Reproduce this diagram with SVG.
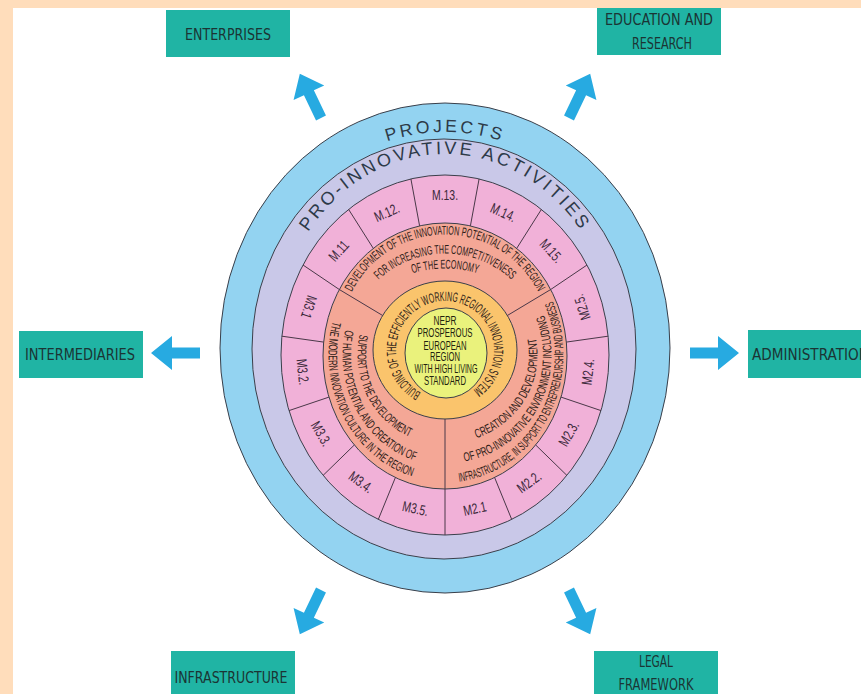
<svg xmlns="http://www.w3.org/2000/svg" width="861" height="694" viewBox="0 0 861 694">
<style>
.box{fill:#20B4A4}
.bt{font-family:"DejaVu Sans","Liberation Sans",sans-serif;font-size:16px;fill:#1b3434;text-anchor:middle}
.ring{stroke:#3a3f4a;stroke-width:1}
.div{stroke:#4a3848;stroke-width:1;fill:none}
.ml{font-family:"Liberation Sans",Arial,sans-serif;font-size:14.5px;fill:#3a2838;text-anchor:middle}
.ct{font-family:"Liberation Sans",Arial,sans-serif;font-size:12.5px;fill:#2e1c18}
.yt{font-family:"Liberation Sans",Arial,sans-serif;font-size:12.5px;fill:#22220e;text-anchor:middle}
.rt{font-family:"Liberation Sans",Arial,sans-serif;fill:#2d3a48}
.arr{fill:#27AAE1}
</style>
<defs>
<path id="arrow" d="M0,-5.5 H28 V-17 L49,0 L28,17 V5.5 H0 Z"/>
<path id="pProj" d="M258.94,274.12 A198,216 0 0 1 631.06,274.12"/>
<path id="pPro" d="M276.6,315.1 A171,195 0 0 1 613.4,315.1"/>
<path id="pOr" d="M439,398.6 A49,49 0 1 1 456,397.7"/>
<path id="pT1" d="M342.1,320.9 A104.5,104.5 0 0 1 547.9,320.9"/>
<path id="pT2" d="M360.6,302.25 A97.5,97.5 0 0 1 529.4,302.25"/>
<path id="pT3" d="M389.25,283.44 A111.5,111.5 0 0 1 500.75,283.44"/>
<path id="pR1" d="M428.94,442.16 A92.5,88.5 0 0 0 513.74,295.78"/>
<path id="pR2" d="M401.9,453.8 A106,108 0 0 0 504.3,265.5"/>
<path id="pR3" d="M389.7,468.3 A119,128 0 0 0 507.5,246.1"/>
<path id="pL1" d="M381.53,293.39 A87.5,89.5 0 0 0 454.9,443.93"/>
<path id="pL2" d="M371.64,277.83 A102.5,110.5 0 0 0 472.74,461.38"/>
<path id="pL3" d="M369.96,258.24 A116.5,126.5 0 0 0 485.04,473.8"/>
</defs>

<rect width="861" height="694" fill="#FFDDBB"/>
<rect x="13" y="8" width="848" height="686" fill="#FFFFFF"/>

<g id="center-diagram">
  <g id="ring-projects">
    <ellipse class="ring" cx="445" cy="348" rx="225" ry="245" fill="#93D3F1"/>
    <text class="rt" font-size="17.5" letter-spacing="3.1"><textPath href="#pProj" startOffset="50%" text-anchor="middle">PROJECTS</textPath></text>
  </g>
  <g id="ring-activities">
    <ellipse class="ring" cx="444" cy="349" rx="192" ry="210" fill="#C9C8E8"/>
    <text class="rt" font-size="18" letter-spacing="3"><textPath href="#pPro" startOffset="50%" text-anchor="middle">PRO-INNOVATIVE ACTIVITIES</textPath></text>
  </g>
  <g id="ring-measures">
    <ellipse class="ring" cx="445" cy="355" rx="164" ry="180" fill="#F1B1D8"/>
  </g>
  <g id="ring-priorities">
    <ellipse class="ring" cx="445" cy="356" rx="122" ry="133" fill="#F4A796"/>
  </g>
  <g id="ring-system">
    <ellipse class="ring" cx="445" cy="350" rx="72" ry="69" fill="#FAC46C"/>
  </g>
  <g id="core">
    <ellipse class="ring" cx="446" cy="353" rx="41" ry="45" fill="#EAF27C"/>
  </g>

  <g id="dividers" class="div">
    <path d="M445,419 V535"/>
    <path d="M382.65,315.5 L339.3,289.5 L303,265"/>
    <path d="M507.35,315.5 L550.7,289.5 L587,265"/>
    <path d="M395.4,477.5 L378.3,519.4 M354.3,445 L323.1,475.4 M329,397.1 L289,410.6 M323.7,342.1 L281.9,336.2 M373.3,248.4 L348.6,209.4 M419.6,225.9 L410.9,178.9 M470.4,225.9 L479.1,178.9 M516.7,248.4 L541.4,209.4 M566.3,342.1 L608.1,336.2 M561,397.1 L601,410.6 M535.7,445 L566.9,475.4 M494.6,477.5 L511.7,519.4"/>
  </g>

  <g id="measure-labels" class="ml">
    <text transform="translate(338.7,250.8) rotate(-48) scale(0.72,1)" y="5">M.11</text>
    <text transform="translate(386.8,212.5) rotate(-24) scale(0.72,1)" y="5">M.12.</text>
    <text transform="translate(445,195) scale(0.72,1)" y="5">M.13.</text>
    <text transform="translate(503.2,212.5) rotate(24) scale(0.72,1)" y="5">M.14.</text>
    <text transform="translate(551.3,250.8) rotate(48) scale(0.72,1)" y="5">M.15.</text>
    <text transform="translate(582,307.1) rotate(-108) scale(0.72,1)" y="5">M2.5.</text>
    <text transform="translate(588,371.9) rotate(-84) scale(0.72,1)" y="5">M2.4.</text>
    <text transform="translate(568.8,433.8) rotate(-60) scale(0.72,1)" y="5">M2.3.</text>
    <text transform="translate(529.1,482.1) rotate(-36) scale(0.72,1)" y="5">M2.2.</text>
    <text transform="translate(474.7,508.6) rotate(-12) scale(0.72,1)" y="5">M2.1</text>
    <text transform="translate(415.3,508.6) rotate(12) scale(0.72,1)" y="5">M3.5.</text>
    <text transform="translate(360.9,482.1) rotate(36) scale(0.72,1)" y="5">M3.4.</text>
    <text transform="translate(321.2,433.8) rotate(60) scale(0.72,1)" y="5">M3.3.</text>
    <text transform="translate(302.8,371.9) rotate(84) scale(0.72,1)" y="5">M3.2.</text>
    <text transform="translate(309,307.1) rotate(108) scale(0.72,1)" y="5">M3.1</text>
  </g>

  <g id="priority-texts" class="ct">
    <text textLength="230" lengthAdjust="spacingAndGlyphs"><textPath href="#pT1" startOffset="50%" text-anchor="middle">DEVELOPMENT OF THE INNOVATION POTENTIAL OF THE REGION</textPath></text>
    <text textLength="146" lengthAdjust="spacingAndGlyphs"><textPath href="#pT2" startOffset="50%" text-anchor="middle">FOR INCREASING THE COMPETITIVENESS</textPath></text>
    <text textLength="66" lengthAdjust="spacingAndGlyphs"><textPath href="#pT3" startOffset="50%" text-anchor="middle">OF THE ECONOMY</textPath></text>
    <text textLength="127" lengthAdjust="spacingAndGlyphs"><textPath href="#pR1" startOffset="50%" text-anchor="middle">CREATION AND DEVELOPMENT</textPath></text>
    <text textLength="190" lengthAdjust="spacingAndGlyphs"><textPath href="#pR2" startOffset="50%" text-anchor="middle">OF PRO-INNOVATIVE ENVIRONMENT INCLUDING</textPath></text>
    <text textLength="234" lengthAdjust="spacingAndGlyphs"><textPath href="#pR3" startOffset="50%" text-anchor="middle">INFRASTRUCTURE, IN SUPPORT TO ENTREPRENEURSHIP AND BUSINESS</textPath></text>
    <text textLength="123" lengthAdjust="spacingAndGlyphs"><textPath href="#pL1" startOffset="50%" text-anchor="middle">SUPPORT TO THE DEVELOPMENT</textPath></text>
    <text textLength="162" lengthAdjust="spacingAndGlyphs"><textPath href="#pL2" startOffset="50%" text-anchor="middle">OF HUMAN POTENTIAL AND CREATION OF</textPath></text>
    <text textLength="191" lengthAdjust="spacingAndGlyphs"><textPath href="#pL3" startOffset="50%" text-anchor="middle">THE MODERN INNOVATION CULTURE IN THE REGION</textPath></text>
    <text font-size="13.5" textLength="252" lengthAdjust="spacingAndGlyphs"><textPath href="#pOr" startOffset="50%" text-anchor="middle">BUILDING OF THE EFFICIENTLY WORKING REGIONAL INNOVATION SYSTEM</textPath></text>
  </g>

  <g id="core-text" class="yt">
    <text x="445" y="324.5" textLength="23" lengthAdjust="spacingAndGlyphs">NEPR</text>
    <text x="445" y="337" textLength="55" lengthAdjust="spacingAndGlyphs">PROSPEROUS</text>
    <text x="445" y="349.5" textLength="43" lengthAdjust="spacingAndGlyphs">EUROPEAN</text>
    <text x="445" y="361" textLength="30" lengthAdjust="spacingAndGlyphs">REGION</text>
    <text x="446" y="373" textLength="63" lengthAdjust="spacingAndGlyphs">WITH HIGH LIVING</text>
    <text x="445" y="384.5" textLength="42" lengthAdjust="spacingAndGlyphs">STANDARD</text>
  </g>
</g>

<g id="enterprises">
  <rect class="box" x="166" y="10" width="124" height="47"/>
  <text class="bt" x="228" y="40" textLength="86" lengthAdjust="spacingAndGlyphs">ENTERPRISES</text>
</g>
<g id="education-research">
  <rect class="box" x="597" y="8" width="124" height="47"/>
  <text class="bt" x="659" y="25" textLength="108" lengthAdjust="spacingAndGlyphs">EDUCATION AND</text>
  <text class="bt" x="662" y="49" textLength="60" lengthAdjust="spacingAndGlyphs">RESEARCH</text>
</g>
<g id="intermediaries">
  <rect class="box" x="19" y="331" width="124" height="47"/>
  <text class="bt" x="80" y="360" textLength="110" lengthAdjust="spacingAndGlyphs">INTERMEDIARIES</text>
</g>
<g id="administration">
  <rect class="box" x="748" y="330" width="124" height="48"/>
  <text class="bt" x="752" y="360" style="text-anchor:start" textLength="117" lengthAdjust="spacingAndGlyphs">ADMINISTRATION</text>
</g>
<g id="infrastructure">
  <rect class="box" x="171" y="651" width="124" height="47"/>
  <text class="bt" x="231" y="683" textLength="113" lengthAdjust="spacingAndGlyphs">INFRASTRUCTURE</text>
</g>
<g id="legal-framework">
  <rect class="box" x="594" y="651" width="124" height="47"/>
  <text class="bt" x="656" y="667" textLength="34" lengthAdjust="spacingAndGlyphs">LEGAL</text>
  <text class="bt" x="656" y="690" textLength="75" lengthAdjust="spacingAndGlyphs">FRAMEWORK</text>
</g>

<g id="connectors" class="arr">
  <use href="#arrow" transform="translate(321,118) rotate(244.4)"/>
  <use href="#arrow" transform="translate(569,118) rotate(-64.4)"/>
  <use href="#arrow" transform="translate(200,353) rotate(180)"/>
  <use href="#arrow" transform="translate(690,353)"/>
  <use href="#arrow" transform="translate(321,590) rotate(115.6)"/>
  <use href="#arrow" transform="translate(569,590) rotate(64.4)"/>
</g>
</svg>
